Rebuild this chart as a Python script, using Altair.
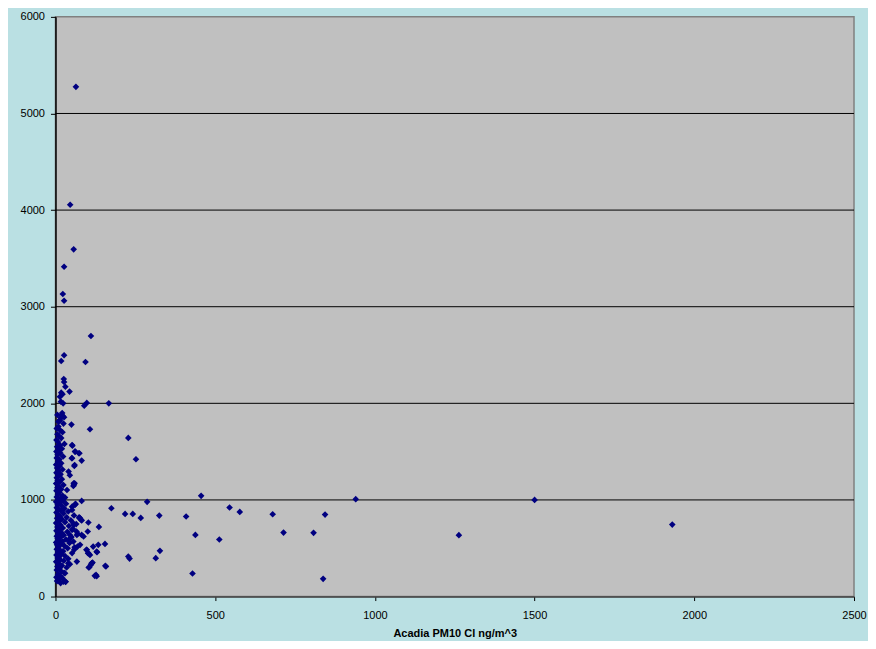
import altair as alt
import pandas as pd

# Scattered points
outer_x = [64, 46, 57, 27, 23, 27, 111, 27, 18, 94, 26, 27, 31, 44, 18, 22, 14, 17, 24,
           90, 98, 167, 19, 27, 22, 14, 9, 50, 108, 228, 53, 75, 61, 51, 82, 252, 59, 45,
           60, 56, 30, 82, 287, 456, 63, 175, 218, 242, 267, 325, 409, 545, 438, 513,
           77, 74, 81, 103, 136, 101, 155, 134, 118, 98, 103, 108, 130, 69, 59, 228, 232,
           327, 314, 116, 111, 104, 156, 127, 129, 429, 67, 940, 1500, 577, 680, 844,
           714, 808, 1263, 838, 1931]
outer_y = [5276, 4055, 3594, 3414, 3131, 3062, 2697, 2497, 2438, 2428, 2252, 2221, 2172,
           2121, 2110, 2094, 2069, 2017, 2000, 1976, 2004, 2000, 1880, 1856, 1872, 1828,
           1810, 1780, 1732, 1642, 1562, 1483, 1500, 1432, 1407, 1421, 1352, 1256, 1173,
           1145, 1024, 990, 980, 1042, 959, 914, 855, 855, 814, 838, 828, 921, 638, 590,
           811, 821, 793, 766, 721, 673, 545, 535, 517, 483, 449, 431, 459, 517, 486, 414,
           393, 473, 397, 352, 328, 300, 318, 224, 211, 238, 362, 1008, 1000, 876, 852,
           848, 662, 659, 635, 183, 745]

# Dense column near x = 0
dense_x = [16, 32, 5, 10, 22, 3, 14, 8, 27, 18, 4, 12, 35, 6, 20, 45, 9, 2, 26, 15, 40, 7,
           11, 30, 3, 19, 52, 8, 24, 14, 4, 38, 60, 10, 28, 5, 17, 44, 2, 22, 12, 33, 7,
           15, 50, 4, 26, 9, 70, 19, 37, 3, 13, 55, 23, 6, 42, 16, 65, 2, 30, 11, 48, 20,
           5, 35, 14, 58, 8, 25, 3, 40, 17, 10, 28, 4, 52, 19, 7, 33, 13, 2, 24, 9,
           15, 4, 22, 8, 12, 3, 18, 6, 10, 25, 2, 14, 7, 20, 4, 11, 16, 3, 9, 22, 5, 13,
           2, 18, 8, 12, 4, 24, 7, 15, 3,
           10, 20, 5, 14, 28, 8, 3, 18, 11, 6, 22, 15, 4, 9, 25, 13, 17, 6, 21,
           58, 61, 75, 82, 56, 66, 82, 45, 56, 77, 97, 129, 113, 106, 158, 123, 40, 30, 25,
           52, 62, 73, 52, 60, 41, 57, 36, 62, 52, 57, 52, 67, 88, 41, 102, 114, 31]
dense_y = [139, 152, 160, 175, 190, 200, 215, 230, 245, 260, 275, 290, 300, 310, 320, 335,
           345, 360, 370, 380, 390, 400,
           410, 420, 430, 440, 450, 460, 470, 480, 490, 500, 510, 515, 525, 535, 545, 555,
           560, 570, 580, 590, 600,
           610, 615, 625, 635, 645, 650, 660, 670, 680, 690, 700, 710, 720, 730, 740, 750,
           760, 770, 780, 790, 800, 810, 820, 830, 840, 850, 860, 870, 880, 890, 900, 910,
           920, 930, 940, 950, 960, 970, 980, 990, 1000,
           1015, 1030, 1045, 1060, 1080, 1095, 1110, 1125, 1140, 1155, 1170, 1185, 1200,
           1215, 1230, 1250, 1265, 1280, 1300, 1315, 1330, 1350, 1365, 1380, 1400, 1420,
           1435, 1450, 1470, 1485, 1500,
           1515, 1530, 1550, 1565, 1580, 1600, 1620, 1640, 1660, 1680, 1700, 1720, 1740,
           1760, 1790, 1820, 1850, 1880, 1900,
           1156, 949, 811, 787, 759, 673, 638, 638, 569, 535, 483, 466, 345, 304, 311, 214,
           345, 241, 155,
           1569, 1500, 1483, 1431, 1362, 1293, 1172, 1103, 955, 897, 741, 690, 638, 621,
           586, 448, 345, 155]

grid_vals = [1000, 2000, 3000, 4000, 5000]
x_ticks = [0, 500, 1000, 1500, 2000, 2500]
y_ticks = [0, 1000, 2000, 3000, 4000, 5000, 6000]

df = pd.DataFrame({"x": outer_x + dense_x, "y": outer_y + dense_y})
grid_df = pd.DataFrame({"g": grid_vals})

xs = alt.Scale(domain=[0, 2500], nice=False)
ys = alt.Scale(domain=[0, 6000], nice=False)

grid = alt.Chart(grid_df).mark_rule(color="#000000", strokeWidth=1).encode(
    y=alt.Y("g:Q", scale=ys)
)

pts = alt.Chart(df).mark_point(
    shape="diamond", filled=True, size=44, color="#000080", opacity=1
).encode(
    x=alt.X("x:Q", scale=xs, title="Acadia PM10 Cl ng/m^3",
            axis=alt.Axis(values=x_ticks, grid=False, format="d",
                          domainColor="#404040", tickColor="#000000", tickSize=4,
                          labelPadding=9, titlePadding=7, labelFlush=False)),
    y=alt.Y("y:Q", scale=ys, title=None,
            axis=alt.Axis(values=y_ticks, grid=False, format="d",
                          domainColor="#000000", tickColor="#000000", tickSize=5,
                          labelPadding=6, labelFlush=False)),
)

chart = alt.layer(grid, pts).properties(
    width=799, height=580,
    background="#bae0e3",
    autosize=alt.AutoSizeParams(type="none"),
    padding={"left": 47.5, "top": 8.7, "right": 14, "bottom": 44},
).configure_view(
    fill="#c0c0c0", stroke="#808080", strokeWidth=1.5
).configure_axis(
    labelFont="Liberation Sans", labelFontSize=11, labelColor="#000000",
    titleFont="Liberation Sans", titleFontSize=11, titleFontWeight="bold",
    titleColor="#000000", domainWidth=1.5
)

chart.save("out.html", embed_options={"renderer": "svg", "actions": False})
